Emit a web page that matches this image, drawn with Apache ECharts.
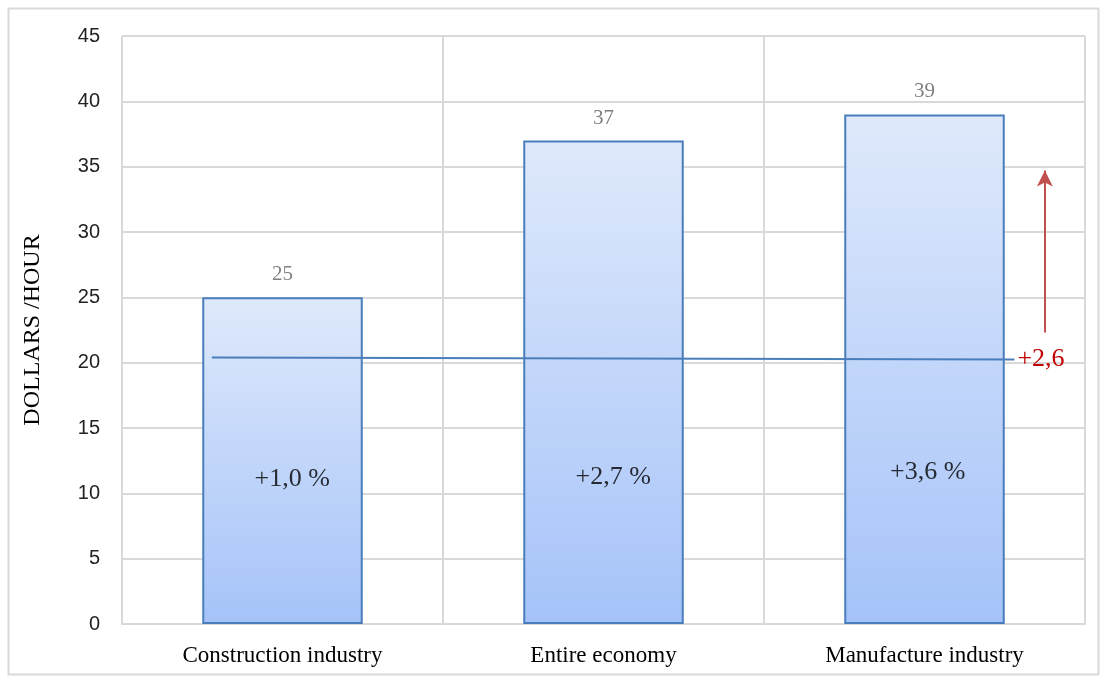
<!DOCTYPE html>
<html><head><meta charset="utf-8">
<script src="https://cdn.jsdelivr.net/npm/echarts@6/dist/echarts.min.js"></script>
<style>html,body{margin:0;padding:0;background:#fff}#c{width:1103px;height:679px}</style>
</head><body><div id="c"></div>
<script>
const categories = ['Construction industry', 'Entire economy', 'Manufacture industry'];
const wages = [25, 37, 39];
const growthLabels = ['+1,0 %', '+2,7 %', '+3,6 %'];
const growthLabelX = [0.03, 1.03, 2.01];
const growthLabelY = [11.1, 11.2, 11.6];
const avgLineX = [-0.22, 2.28];
const avgLineY = [20.4, 20.25];
const arrowX = 2.375;
const arrowY = [22.3, 34.7];
const arrowLabel = '+2,6';
const yTicks = {min: 0, max: 45, interval: 5};

const chart = echarts.init(document.getElementById('c'), null, {renderer: 'canvas'});
const serif = '"Liberation Serif", "DejaVu Serif", serif';
chart.setOption({
  animation: false,
  grid: {left: 122, right: 18, top: 36, bottom: 55},
  graphic: [{type: 'rect', left: 6, top: 6, shape: {width: 1090, height: 666},
    style: {fill: 'none', stroke: '#d9d9d9', lineWidth: 2}, silent: true, z: -1}],
  xAxis: [{
    type: 'category', data: categories,
    axisLine: {lineStyle: {color: '#d9d9d9', width: 2}},
    axisTick: {show: false},
    splitLine: {show: true, lineStyle: {color: '#d9d9d9', width: 2}},
    axisLabel: {fontFamily: serif, fontSize: 23, color: '#000', margin: 20}
  }, {
    type: 'value', min: -0.5, max: 2.5, show: false
  }],
  yAxis: {
    type: 'value', min: yTicks.min, max: yTicks.max, interval: yTicks.interval,
    name: 'DOLLARS /HOUR', nameLocation: 'middle', nameGap: 77, nameRotate: 90,
    nameTextStyle: {fontFamily: serif, fontSize: 24, color: '#000'},
    axisLine: {show: false}, axisTick: {show: false},
    splitLine: {lineStyle: {color: '#d9d9d9', width: 2}},
    axisLabel: {fontFamily: '"Liberation Sans", Arial, sans-serif', fontSize: 20, color: '#222', margin: 22}
  },
  series: [{
    type: 'bar', data: wages, barWidth: '50%',
    itemStyle: {
      color: new echarts.graphic.LinearGradient(0, 0, 0, 1, [
        {offset: 0, color: '#dfe9fb'}, {offset: 1, color: '#a5c3f9'}]),
      borderColor: '#4a7ebb', borderWidth: 2
    },
    label: {show: true, position: 'top', distance: 12, fontFamily: serif, fontSize: 21, color: '#7f7f7f'}
  }, {
    type: 'scatter', symbolSize: 0, xAxisIndex: 1,
    data: growthLabelY.map((v, i) => [growthLabelX[i], v]),
    label: {show: true, position: 'inside', fontFamily: serif, fontSize: 26, color: '#000',
      formatter: p => growthLabels[p.dataIndex]},
    z: 5
  }, {
    type: 'line', xAxisIndex: 1, symbol: 'none',
    data: avgLineX.map((x, i) => [x, avgLineY[i]]),
    lineStyle: {color: '#4a7ebb', width: 2},
    endLabel: {show: true, formatter: arrowLabel, fontFamily: serif, fontSize: 26, color: '#c00000', distance: 3},
    markLine: {
      silent: true, symbol: ['none', 'arrow'], symbolSize: [12, 16],
      lineStyle: {color: '#c0504d', width: 2, type: 'solid'},
      label: {show: false},
      data: [[{coord: [arrowX, arrowY[0]]}, {coord: [arrowX, arrowY[1]]}]]
    },
    z: 4
  }]
});
</script></body></html>
